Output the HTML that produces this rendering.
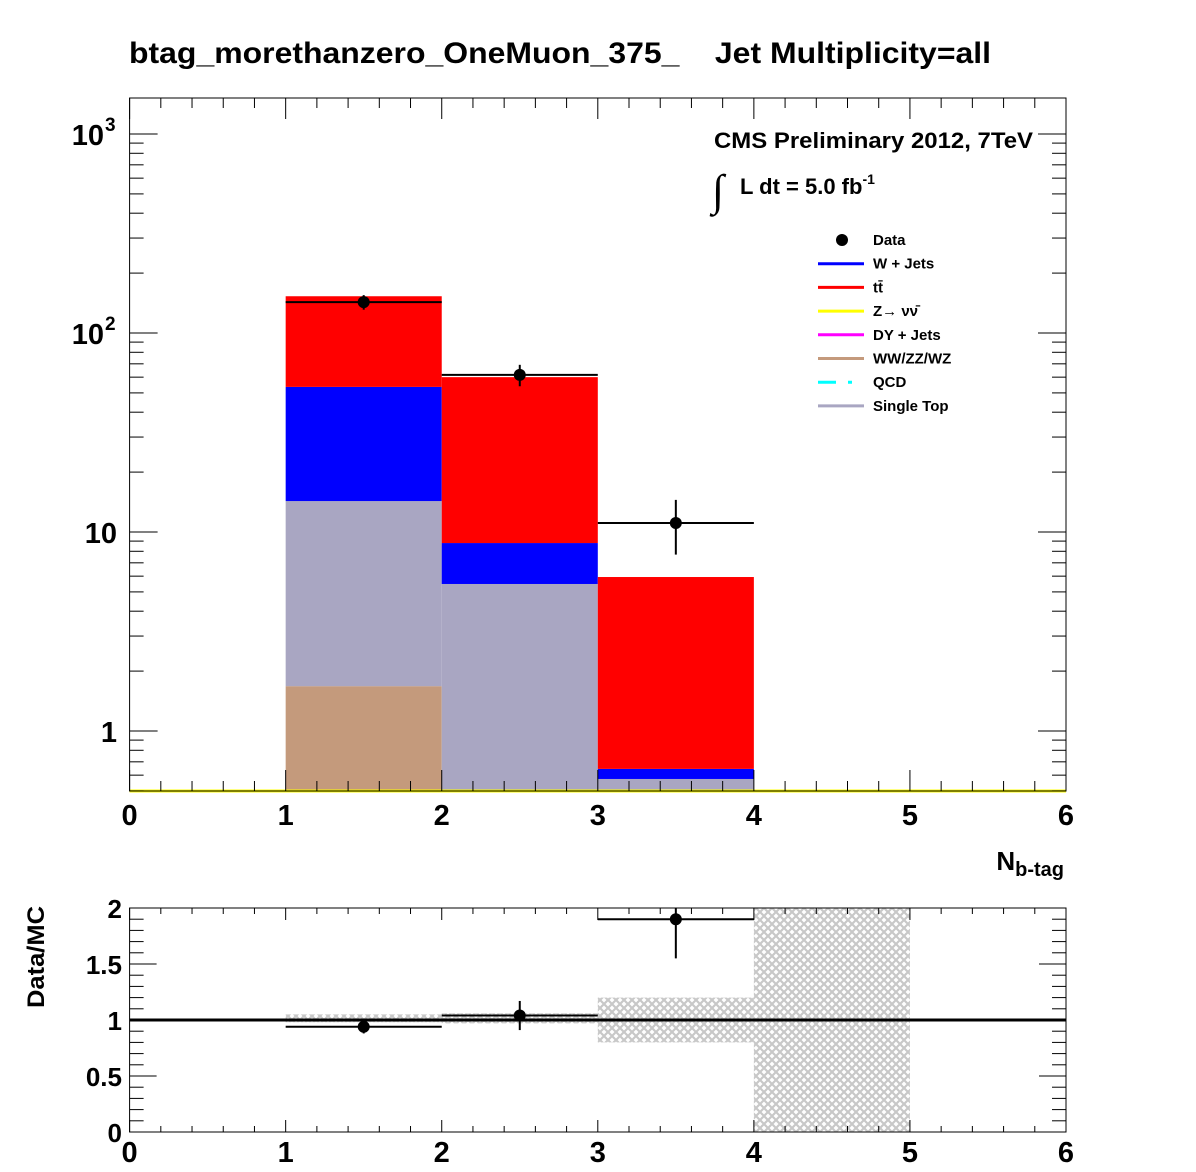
<!DOCTYPE html>
<html><head><meta charset="utf-8"><style>
body{margin:0;background:#fff;}
svg{display:block;font-family:"Liberation Sans",Arial,sans-serif;font-weight:bold;}
</style></head><body>
<svg id="c" width="1196" height="1172" viewBox="0 0 1196 1172">
<defs>
<pattern id="hatch" width="8" height="8" patternUnits="userSpaceOnUse">
<path d="M0,0 L8,8 M8,0 L0,8" stroke="#c8c8c8" stroke-width="2.2"/>
</pattern>
<clipPath id="rclip"><rect x="129" y="908" width="938" height="224"/></clipPath>
</defs>
<rect width="1196" height="1172" fill="#fff"/>
<text x="129" y="63" font-size="30" textLength="862" lengthAdjust="spacingAndGlyphs">btag_morethanzero_OneMuon_375_&#160;&#160;&#160;&#160;Jet Multiplicity=all</text>
<g id="main"></g>
<g id="ratio"></g>
<text x="1064" y="870" font-size="26" text-anchor="end">N<tspan font-size="20" dy="6">b-tag</tspan></text>
<text transform="translate(44,1008) rotate(-90)" font-size="24" text-anchor="start" textLength="102" lengthAdjust="spacingAndGlyphs">Data/MC</text>
<text x="714" y="148" font-size="22" textLength="319" lengthAdjust="spacingAndGlyphs">CMS Preliminary 2012, 7TeV</text>
<text x="712" y="205" font-size="44" font-weight="normal" font-family="Liberation Serif,serif">∫</text>
<text x="740" y="194" font-size="22">L dt = 5.0 fb<tspan font-size="14" dy="-10">-1</tspan></text>
<g id="legend"></g>
</svg>
<script>
const categories=[1.5,2.5,3.5];
const binEdges=[1,2,3,4];
const wwZZWZ=[1.68,0,0];
const singleTop=[14.3-1.68,5.48,0.574];
const wJets=[53.6-14.3,8.8-5.48,0.645-0.574];
const ttbar=[153-53.6,60-8.8,5.94-0.645];
const dataVals=[143,61.6,11.1];
const dataErrLo=[12,7.6,3.4];
const dataErrHi=[12,7.6,3.4];
const ratioVals=[0.94,1.04,1.90];
const ratioErrLo=[0.06,0.13,0.35];
const ratioErrHi=[0.06,0.13,0.35];
const bandBins=[1,2,3,4];
const bandLo=[0.98,0.97,0.80,0];
const bandHi=[1.05,1.06,1.20,2];
const xTicks=[0,1,2,3,4,5,6];
const ratioTicks=["0","0.5","1","1.5","2"];

const NS="http://www.w3.org/2000/svg";
function mk(p,t,a){const e=document.createElementNS(NS,t);for(const k in a)e.setAttribute(k,a[k]);p.appendChild(e);return e;}
const X0=129.6,X1=1066,Y0=98,Y1=791;
const x=v=>X0+(X1-X0)*v/6;
const yLog=v=>731-199*Math.log10(v);
const yClamp=v=>Math.min(Y1,yLog(Math.max(v,1e-6)));
const RY0=908,RY1=1132;
const yr=v=>RY1-(RY1-RY0)*v/2;
const main=document.getElementById('main');
const ratio=document.getElementById('ratio');

const series=[[wwZZWZ,'#c49a7c','stack-wwzzwz'],[singleTop,'#a9a6c2','stack-single-top'],[wJets,'#0000ff','stack-w-jets'],[ttbar,'#ff0000','stack-ttbar']];
const cum=[0,0,0];
series.forEach(([arr,col,name])=>{
  arr.forEach((v,i)=>{
    if(v<=0)return;
    const lo=cum[i],hi=cum[i]+v;cum[i]=hi;
    const yt=yClamp(hi),yb=lo>0?yClamp(lo):Y1;
    const r=mk(main,'rect',{x:x(binEdges[i]),y:yt,width:x(binEdges[i+1])-x(binEdges[i]),height:Math.max(0,yb-yt),fill:col});
    
    
  });
});
const zl=mk(main,'line',{x1:X0,x2:X1,y1:Y1,y2:Y1,stroke:'#ffff00','stroke-width':3});



const fr=mk(main,'rect',{x:X0,y:Y0,width:X1-X0,height:Y1-Y0,fill:'none',stroke:'#000','stroke-width':1});


for(let d=-1;d<=3;d++){for(let m=1;m<=9;m++){const v=m*Math.pow(10,d);const yy=yLog(v);if(yy<Y0||yy>Y1)continue;const L=m===1?28:14;
 mk(main,'line',{x1:X0,x2:X0+L,y1:yy,y2:yy,stroke:'#000'});mk(main,'line',{x1:X1,x2:X1-L,y1:yy,y2:yy,stroke:'#000'});}}
const yl=[[1,'1'],[10,'10'],[100,'10'],[1000,'10']];
yl.forEach(([v,t],i)=>{const tx=mk(main,'text',{x:i<2?117:104,y:yLog(v)+11,'font-size':29,'text-anchor':'end'});tx.textContent=t;
 
 
 if(i>=2){const s=mk(main,'text',{x:105,y:yLog(v)-3,'font-size':19});s.textContent=i===2?'2':'3';}});
function xt(g,yb,yt,big,small){for(let k=0;k<=30;k++){const v=k*0.2;const xx=x(v);const L=k%5===0?big:small;
 mk(g,'line',{x1:xx,x2:xx,y1:yb,y2:yb-L,stroke:'#000'});mk(g,'line',{x1:xx,x2:xx,y1:yt,y2:yt+L,stroke:'#000'});}}
xt(main,Y1,Y0,21,10);
xTicks.forEach(v=>{const t=mk(main,'text',{x:x(v),y:825,'font-size':29,'text-anchor':'middle'});t.textContent=v;
 
 });
categories.forEach((c,i)=>{const g=mk(main,'g',{});
 
 
 const yy=yLog(dataVals[i]);
 mk(g,'line',{x1:x(binEdges[i]),x2:x(binEdges[i+1]),y1:yy,y2:yy,stroke:'#000','stroke-width':2});
 mk(g,'line',{x1:x(c),x2:x(c),y1:yLog(dataVals[i]+dataErrHi[i]),y2:yLog(dataVals[i]-dataErrLo[i]),stroke:'#000','stroke-width':2});
 mk(g,'circle',{cx:x(c),cy:yy,r:6,fill:'#000'});});

bandBins.forEach((b,i)=>{const r=mk(ratio,'rect',{x:x(b),y:yr(bandHi[i]),width:x(b+1)-x(b),height:yr(bandLo[i])-yr(bandHi[i]),fill:'url(#hatch)'});
 
 });
const rf=mk(ratio,'rect',{x:X0,y:RY0,width:X1-X0,height:RY1-RY0,fill:'none',stroke:'#000'});


for(let k=0;k<=20;k++){const yy=yr(k*0.1);const L=k%5===0?27:14;
 mk(ratio,'line',{x1:X0,x2:X0+L,y1:yy,y2:yy,stroke:'#000'});mk(ratio,'line',{x1:X1,x2:X1-L,y1:yy,y2:yy,stroke:'#000'});}
xt(ratio,RY1,RY0,12,6);
ratioTicks.forEach((t,i)=>{const tx=mk(ratio,'text',{x:122,y:yr(i*0.5)+10,'font-size':26,'text-anchor':'end'});tx.textContent=t;
 
 });
xTicks.forEach(v=>{const t=mk(ratio,'text',{x:x(v),y:1162,'font-size':29,'text-anchor':'middle'});t.textContent=v;
 
 });
const one=mk(ratio,'line',{x1:X0,x2:X1,y1:yr(1),y2:yr(1),stroke:'#000','stroke-width':3});


categories.forEach((c,i)=>{const g=mk(ratio,'g',{'clip-path':'url(#rclip)'});
 
 
 const yy=yr(ratioVals[i]);
 mk(g,'line',{x1:x(binEdges[i]),x2:x(binEdges[i+1]),y1:yy,y2:yy,stroke:'#000','stroke-width':2});
 mk(g,'line',{x1:x(c),x2:x(c),y1:yr(ratioVals[i]+ratioErrHi[i]),y2:yr(ratioVals[i]-ratioErrLo[i]),stroke:'#000','stroke-width':2});
 mk(g,'circle',{cx:x(c),cy:yy,r:6,fill:'#000'});});

const leg=document.getElementById('legend');
const entries=[['Data',null],['W + Jets','#0000ff'],['tt̄','#ff0000'],['Z→ νν̄','#ffff00'],['DY + Jets','#ff00ff'],['WW/ZZ/WZ','#c49a7c'],['QCD','#00ffff'],['Single Top','#a9a6c2']];
entries.forEach(([lab,col],i)=>{const yy=240+i*23.7;const g=mk(leg,'g',{});
 
 
 if(col===null)mk(g,'circle',{cx:842,cy:yy,r:6,fill:'#000'});
 else mk(g,'line',{x1:818,x2:864,y1:yy,y2:yy,stroke:col,'stroke-width':3,'stroke-dasharray':lab==='QCD'?'18,12,4,12':'none'});
 const t=mk(g,'text',{x:873,y:yy+5,'font-size':15});t.textContent=lab;});
</script>
</body></html>
